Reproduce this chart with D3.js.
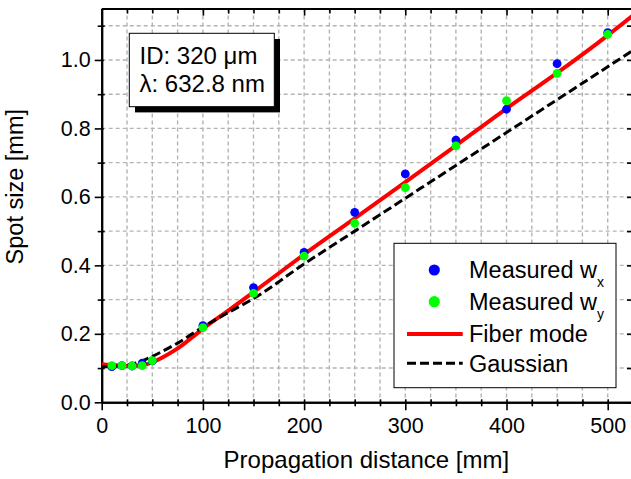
<!DOCTYPE html>
<html>
<head>
<meta charset="utf-8">
<script src="https://cdn.jsdelivr.net/npm/d3@7"></script>
<style>
  html, body { margin: 0; padding: 0; background: #fff; }
  svg { display: block; font-family: "Liberation Sans", Arial, sans-serif; }
</style>
</head>
<body>
<svg id="chart" width="631" height="479"></svg>
<script>
// ---- data ----
const distances = [10, 20, 30, 40, 50, 100, 150, 200, 250, 300, 350, 400, 450, 500];
const measuredWx = [0.104, 0.107, 0.106, 0.114, 0.121, 0.224, 0.335, 0.438, 0.555, 0.667, 0.766, 0.856, 0.989, 1.080];
const measuredWy = [0.107, 0.107, 0.106, 0.107, 0.122, 0.218, 0.318, 0.427, 0.523, 0.627, 0.749, 0.881, 0.961, 1.075];

const fiberZ = [0, 10, 20, 30, 40, 50, 60, 70, 80, 90, 100, 125, 150, 175, 200, 250, 300, 350, 400, 450, 500, 524];
const fiberW = [0.111, 0.109, 0.107, 0.106, 0.108, 0.117, 0.131, 0.148, 0.168, 0.191, 0.215, 0.268, 0.322, 0.377, 0.432, 0.537, 0.643, 0.750, 0.858, 0.962, 1.072, 1.128];

const gaussZ = [0, 10, 20, 30, 40, 50, 60, 75, 100, 125, 150, 200, 250, 300, 350, 400, 450, 500, 524];
const gaussW = [0.104, 0.105, 0.107, 0.112, 0.121, 0.134, 0.149, 0.173, 0.220, 0.262, 0.303, 0.404, 0.500, 0.596, 0.692, 0.788, 0.884, 0.980, 1.026];

const xMajorTicks = [0, 100, 200, 300, 400, 500];
const xMinorTicks = [25, 50, 75, 125, 150, 175, 225, 250, 275, 325, 350, 375, 425, 450, 475, 525];
const yMajorTicks = [0.0, 0.2, 0.4, 0.6, 0.8, 1.0];
const yMinorTicks = [0.1, 0.3, 0.5, 0.7, 0.9, 1.1];

const legendLabels = ["Measured w", "Measured w", "Fiber mode", "Gaussian"];
const legendSubs = ["x", "y", "", ""];
const infoLines = ["ID: 320 \u03BCm", "\u03BB: 632.8 nm"];
const xTitle = "Propagation distance [mm]";
const yTitle = "Spot size [mm]";

(function () {
// ---- layout ----
const svg = d3.select("#chart");
const pL = 101.7, pR = 632, pT = 8.6, pB = 402.3;
const x = d3.scaleLinear().domain([0, 524]).range([pL, pR]);
const y = d3.scaleLinear().domain([0, 1.15]).range([pB, pT]);

svg.append("rect").attr("width", 631).attr("height", 479).attr("fill", "#fff");

// grid
const gridX = xMinorTicks.concat(xMajorTicks).filter(d => d > 0 && d < 524);
const gridY = yMinorTicks.concat(yMajorTicks).filter(d => d > 0);
const grid = svg.append("g");
grid.selectAll("line.gx").data(gridX).join("line").attr("class", "gx")
  .attr("x1", d => x(d)).attr("x2", d => x(d))
  .attr("y1", pT).attr("y2", pB)
  .attr("stroke", "#b4b4b4").attr("stroke-width", 1.4).attr("stroke-dasharray", "4,3");
grid.selectAll("line.gy").data(gridY).join("line").attr("class", "gy")
  .attr("x1", pL).attr("x2", pR)
  .attr("y1", d => y(d)).attr("y2", d => y(d))
  .attr("stroke", "#b4b4b4").attr("stroke-width", 1.4).attr("stroke-dasharray", "4,3");

// axes
function styleAxis(g, fontSize) {
  g.select(".domain").attr("stroke", "#000").attr("stroke-width", 2);
  g.selectAll(".tick line").attr("stroke", "#000").attr("stroke-width", 1.6);
  g.selectAll(".tick text").attr("font-size", fontSize).attr("fill", "#000")
    .attr("font-family", "Liberation Sans, Arial, sans-serif");
}

// bottom
const bMinor = svg.append("g").attr("transform", `translate(0,${pB})`)
  .call(d3.axisBottom(x).tickValues(xMinorTicks.filter(d => d < 524)).tickSize(4).tickFormat("").tickSizeOuter(0));
styleAxis(bMinor, 21.5);
bMinor.selectAll(".tick line").attr("y1", -3);
const bMajor = svg.append("g").attr("transform", `translate(0,${pB})`)
  .call(d3.axisBottom(x).tickValues(xMajorTicks).tickSize(8).tickFormat(d3.format("d")).tickSizeOuter(0));
styleAxis(bMajor, 21.5);
bMajor.selectAll(".tick line").attr("y1", -3);
bMajor.selectAll(".tick text").attr("y", 15.2);

// left
const lMinor = svg.append("g").attr("transform", `translate(${pL},0)`)
  .call(d3.axisLeft(y).tickValues(yMinorTicks).tickSize(4).tickFormat("").tickSizeOuter(0));
styleAxis(lMinor, 21.5);
lMinor.selectAll(".tick line").attr("x1", 3);
const lMajor = svg.append("g").attr("transform", `translate(${pL},0)`)
  .call(d3.axisLeft(y).tickValues(yMajorTicks).tickSize(7).tickFormat(d3.format(".1f")).tickSizeOuter(0));
styleAxis(lMajor, 21.5);
lMajor.selectAll(".tick line").attr("x1", 2);
lMajor.selectAll(".tick text").attr("x", -11);

// top (inward)
const tMinor = svg.append("g").attr("transform", `translate(0,${pT})`)
  .call(d3.axisTop(x).tickValues(xMinorTicks.filter(d => d < 524)).tickSize(-5).tickFormat("").tickSizeOuter(0));
styleAxis(tMinor, 21.5);
const tMajor = svg.append("g").attr("transform", `translate(0,${pT})`)
  .call(d3.axisTop(x).tickValues(xMajorTicks).tickSize(-7).tickFormat("").tickSizeOuter(0));
styleAxis(tMajor, 21.5);

// right (inward)
const rAll = svg.append("g").attr("transform", `translate(${pR},0)`)
  .call(d3.axisRight(y).tickValues(yMajorTicks.concat(yMinorTicks)).tickSize(-5).tickFormat("").tickSizeOuter(0));
styleAxis(rAll, 21.5);

// curves
svg.append("clipPath").attr("id", "plotclip").append("rect")
  .attr("x", pL).attr("y", pT).attr("width", pR - pL).attr("height", pB - pT);
const plot = svg.append("g").attr("clip-path", "url(#plotclip)");

const line = d3.line().x(d => x(d[0])).y(d => y(d[1])).curve(d3.curveMonotoneX);

plot.append("path")
  .datum(fiberZ.map((z, i) => [z, fiberW[i]]))
  .attr("d", line).attr("fill", "none").attr("stroke", "#ff0000").attr("stroke-width", 4);

plot.append("path")
  .datum(gaussZ.map((z, i) => [z, gaussW[i]]))
  .attr("d", line).attr("fill", "none").attr("stroke", "#000").attr("stroke-width", 3)
  .attr("stroke-dasharray", "9,4");

svg.append("g").selectAll("circle").data(distances.map((d, i) => [d, measuredWx[i]])).join("circle")
  .attr("cx", d => x(d[0])).attr("cy", d => y(d[1])).attr("r", 4.4).attr("fill", "#0000ff");
svg.append("g").selectAll("circle").data(distances.map((d, i) => [d, measuredWy[i]])).join("circle")
  .attr("cx", d => x(d[0])).attr("cy", d => y(d[1])).attr("r", 4.4).attr("fill", "#00ff00");

// axis titles
svg.append("text").attr("x", (pL + 631) / 2).attr("y", 468).attr("text-anchor", "middle")
  .attr("font-size", 24).attr("fill", "#000").text(xTitle);
svg.append("text").attr("transform", "translate(22.7,186.7) rotate(-90)").attr("text-anchor", "middle")
  .attr("font-size", 23.5).attr("fill", "#000").text(yTitle);

// info box
svg.append("rect").attr("x", 135).attr("y", 39).attr("width", 145).attr("height", 73.4).attr("fill", "#000");
svg.append("rect").attr("x", 129.3).attr("y", 33.3).attr("width", 145).attr("height", 73.4)
  .attr("fill", "#fff").attr("stroke", "#000").attr("stroke-width", 1);
infoLines.forEach((t, i) => {
  svg.append("text").attr("x", 139.5).attr("y", 64 + i * 27.7).attr("font-size", 24).attr("fill", "#000").text(t);
});

// legend
const lg = svg.append("g");
lg.append("rect").attr("x", 394).attr("y", 243.3).attr("width", 222).attr("height", 144.4)
  .attr("fill", "#fff").attr("stroke", "#000").attr("stroke-width", 1);
const rowY = [270, 301.7, 334, 363.3];
lg.append("circle").attr("cx", 434.3).attr("cy", rowY[0]).attr("r", 5.6).attr("fill", "#0000ff");
lg.append("circle").attr("cx", 434.3).attr("cy", rowY[1]).attr("r", 5.6).attr("fill", "#00ff00");
lg.append("line").attr("x1", 407).attr("x2", 462.7).attr("y1", rowY[2]).attr("y2", rowY[2])
  .attr("stroke", "#ff0000").attr("stroke-width", 4);
lg.append("line").attr("x1", 407).attr("x2", 462.7).attr("y1", rowY[3]).attr("y2", rowY[3])
  .attr("stroke", "#000").attr("stroke-width", 3).attr("stroke-dasharray", "9,4");
legendLabels.forEach((t, i) => {
  const tx = lg.append("text").attr("x", 469).attr("y", rowY[i] + 8.3).attr("font-size", 23.5).attr("fill", "#000");
  tx.append("tspan").text(t);
  if (legendSubs[i]) {
    tx.append("tspan").attr("font-size", 14).attr("dy", 8.5).text(legendSubs[i]);
  }
});
})();
</script>
</body>
</html>
